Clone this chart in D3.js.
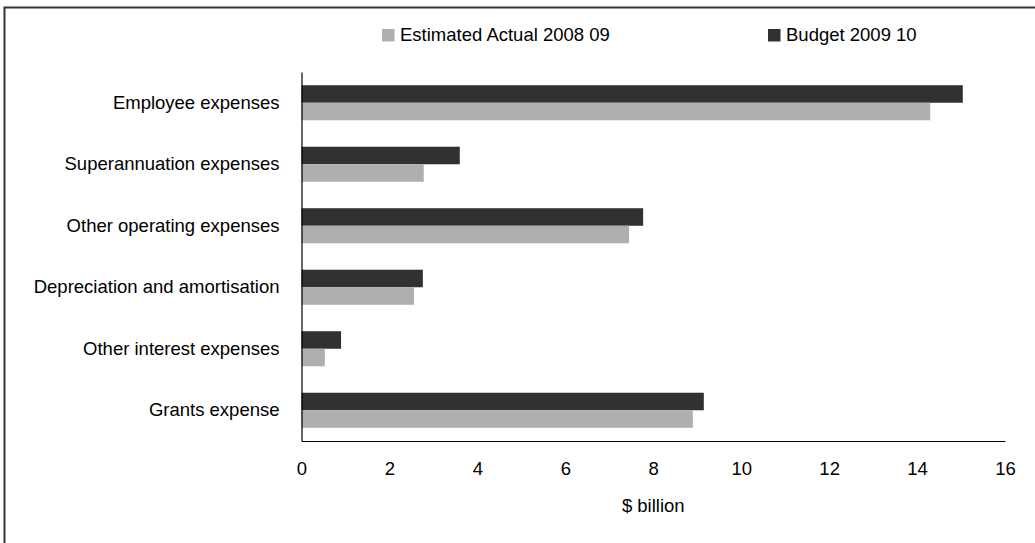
<!DOCTYPE html>
<html>
<head>
<meta charset="utf-8">
<script src="https://cdn.jsdelivr.net/npm/d3@7"></script>
<style>
    body { margin: 0; background: #ffffff; }
    svg { display: block; font-family: "Liberation Sans", Arial, sans-serif; }
</style>
</head>
<body>
<svg id="expenses-chart" width="1035" height="543"></svg>
<script>
// categories from top to bottom, values in $ billion
let categories = [
    "Employee expenses",
    "Superannuation expenses",
    "Other operating expenses",
    "Depreciation and amortisation",
    "Other interest expenses",
    "Grants expense"
];
let estimated_actual = [14.3, 2.78, 7.45, 2.56, 0.53, 8.9];
let budget = [15.04, 3.6, 7.77, 2.76, 0.9, 9.15];

let series_names = ["Budget 2009 10", "Estimated Actual 2008 09"];
let x_ticks = [0, 2, 4, 6, 8, 10, 12, 14, 16];

// colors
let dark_grey = "#313131";
let light_grey = "#afafaf";

let svg = d3.select("#expenses-chart");

// frame round the chart
svg.append("rect")
    .attr("x", 4.5)
    .attr("y", 7.5)
    .attr("width", 1040)
    .attr("height", 540)
    .attr("fill", "none")
    .attr("stroke", "#333333")
    .attr("stroke-width", 2);

let dimensions = {
    margins: { top: 72, left: 301.5, right: 1005, bottom: 441 }
};

// scales
let xScale = d3.scaleLinear()
    .domain([0, 16])
    .range([dimensions.margins.left, dimensions.margins.right]);

let yScale = d3.scaleBand()
    .domain(categories)
    .range([dimensions.margins.top, dimensions.margins.bottom])
    .paddingInner(0.43)
    .paddingOuter(0.215);

// budget bar on top, estimated bar below it
let subScale = d3.scaleBand()
    .domain(series_names)
    .range([0, yScale.bandwidth()]);

let rows = categories.map((c, i) => ({
    category: c,
    values: [
        { series: series_names[0], value: budget[i], color: dark_grey },
        { series: series_names[1], value: estimated_actual[i], color: light_grey }
    ]
}));

// draw the bars
let groups = svg.append("g")
    .selectAll("g")
    .data(rows)
    .join("g")
    .attr("transform", d => `translate(0, ${yScale(d.category)})`);

groups.selectAll("rect")
    .data(d => d.values)
    .join("rect")
    .attr("x", xScale(0))
    .attr("y", d => subScale(d.series))
    .attr("width", d => xScale(d.value) - xScale(0))
    .attr("height", subScale.bandwidth())
    .attr("fill", d => d.color);

// x axis
let xAxisGenerator = d3.axisBottom(xScale)
    .tickValues(x_ticks)
    .tickSize(0)
    .tickPadding(21)
    .tickFormat(d3.format("d"));

let xAxis = svg.append("g")
    .attr("transform", `translate(0, ${dimensions.margins.bottom})`)
    .call(xAxisGenerator);
xAxis.select(".domain").attr("stroke", "#000000").attr("stroke-width", 1.2);
xAxis.selectAll("text").attr("font-size", 18.5).attr("fill", "#000000").attr("font-family", null);

// y axis
let yAxisGenerator = d3.axisLeft(yScale)
    .tickSize(0)
    .tickPadding(22);

let yAxis = svg.append("g")
    .attr("transform", `translate(${dimensions.margins.left}, 0)`)
    .call(yAxisGenerator);
yAxis.select(".domain").attr("stroke", "#000000").attr("stroke-width", 1.2);
yAxis.selectAll("text").attr("font-size", 18.5).attr("fill", "#000000").attr("font-family", null);

// axis title
svg.append("text")
    .attr("x", xScale(8))
    .attr("y", 512)
    .attr("text-anchor", "middle")
    .attr("font-size", 18.5)
    .text("$ billion");

// legend
let legend_items = [
    { name: series_names[1], color: light_grey, x: 382 },
    { name: series_names[0], color: dark_grey, x: 768 }
];

let legend = svg.append("g")
    .selectAll("g")
    .data(legend_items)
    .join("g")
    .attr("transform", d => `translate(${d.x}, 29)`);

legend.append("rect")
    .attr("width", 12.5)
    .attr("height", 12.5)
    .attr("fill", d => d.color);

legend.append("text")
    .attr("x", 18)
    .attr("y", 12)
    .attr("font-size", 18.5)
    .text(d => d.name);
</script>
</body>
</html>
